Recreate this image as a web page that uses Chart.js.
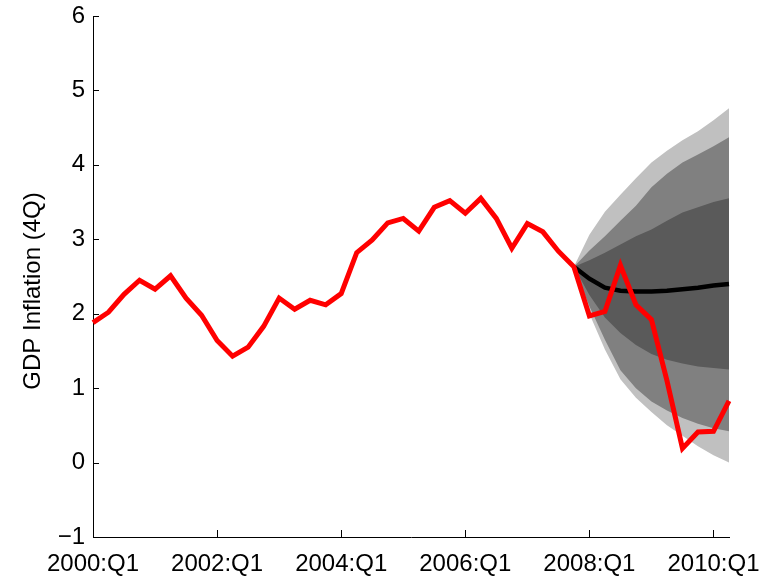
<!DOCTYPE html>
<html>
<head>
<meta charset="utf-8">
<script src="https://cdn.jsdelivr.net/npm/chart.js@4"></script>
<style>
  html, body { margin: 0; padding: 0; background: #fff; }
  #wrap { width: 782px; height: 581px; }
</style>
</head>
<body>
<div id="wrap"><canvas id="gdpChart" width="782" height="581"></canvas></div>
<script>
// quarters 2000:Q1 .. 2010:Q2
const quarters = [];
for (let y = 2000; y <= 2010; y++) {
  for (let q = 1; q <= 4; q++) {
    if (quarters.length < 42) quarters.push(y + ":Q" + q);
  }
}
const tickLabels = ["2000:Q1", "2002:Q1", "2004:Q1", "2006:Q1", "2008:Q1", "2010:Q1"];
const yTicks = [-1, 0, 1, 2, 3, 4, 5, 6];
const yTitle = "GDP Inflation (4Q)";

// actual GDP inflation (4Q)
const actual = [1.88, 2.02, 2.26, 2.45, 2.33, 2.51, 2.21, 1.98, 1.64, 1.43,
                1.55, 1.83, 2.21, 2.06, 2.18, 2.12, 2.27, 2.82, 2.99, 3.22,
                3.28, 3.11, 3.43, 3.52, 3.35, 3.55, 3.28, 2.88, 3.21, 3.10,
                2.84, 2.63, 1.97, 2.03, 2.65, 2.12, 1.92, 1.10, 0.19, 0.41,
                0.42, 0.83];

// forecast from 2007:Q4
const forecastStart = 31;
const median     = [2.63, 2.47, 2.35, 2.31, 2.30, 2.30, 2.31, 2.33, 2.35, 2.38, 2.40];
const darkUpper  = [2.63, 2.72, 2.82, 2.93, 3.04, 3.13, 3.25, 3.36, 3.43, 3.50, 3.55];
const darkLower  = [2.63, 2.25, 1.95, 1.74, 1.58, 1.46, 1.38, 1.33, 1.29, 1.27, 1.25];
const midUpper   = [2.63, 2.85, 3.04, 3.25, 3.45, 3.70, 3.88, 4.03, 4.14, 4.25, 4.37];
const midLower   = [2.63, 2.10, 1.65, 1.24, 1.00, 0.82, 0.70, 0.60, 0.52, 0.46, 0.42];
const lightUpper = [2.63, 3.06, 3.37, 3.60, 3.82, 4.03, 4.19, 4.33, 4.45, 4.60, 4.76];
const lightLower = [2.63, 2.00, 1.52, 1.12, 0.87, 0.68, 0.50, 0.36, 0.22, 0.10, 0.00];

const pad = arr => quarters.map((_, i) => i < forecastStart ? null : arr[i - forecastStart]);

const FONT = "'Liberation Sans', Arial, Helvetica, sans-serif";

function band(data, color, target, order) {
  return {
    data: pad(data),
    borderWidth: 0,
    pointRadius: 0,
    backgroundColor: color,
    fill: target === null ? false : { target: target },
    order: order
  };
}

// inward tick marks (matlab style) + rotated y title
const matlabAxes = {
  id: "matlabAxes",
  beforeDatasetsDraw(chart) {
    const { ctx, chartArea, scales } = chart;
    ctx.save();
    ctx.strokeStyle = "#000";
    ctx.lineWidth = 1;
    ctx.beginPath();
    yTicks.forEach(v => {
      const y = Math.round(scales.y.getPixelForValue(v)) + 0.5;
      ctx.moveTo(chartArea.left, y);
      ctx.lineTo(chartArea.left + 6, y);
    });
    tickLabels.forEach(l => {
      const x = Math.round(scales.x.getPixelForValue(quarters.indexOf(l))) + 0.5;
      ctx.moveTo(x, chartArea.bottom);
      ctx.lineTo(x, chartArea.bottom - 7);
    });
    ctx.stroke();
    ctx.restore();
  },
  afterDraw(chart) {
    const ctx = chart.ctx;
    ctx.save();
    ctx.translate(33, 291);
    ctx.rotate(-Math.PI / 2);
    ctx.fillStyle = "#000";
    ctx.font = "24px " + FONT;
    ctx.textAlign = "center";
    ctx.textBaseline = "middle";
    ctx.fillText(yTitle, 0, 0);
    ctx.restore();
  }
};

const ctx = document.getElementById("gdpChart").getContext("2d");
new Chart(ctx, {
  type: "line",
  data: {
    labels: quarters,
    datasets: [
      { data: actual, borderColor: "#ff0000", borderWidth: 5, pointRadius: 0, fill: false, order: 0 },
      { data: pad(median), borderColor: "#000000", borderWidth: 4.5, pointRadius: 0, fill: false, order: 1 },
      band(darkUpper, "#5a5a5a", 3, 2),
      band(darkLower, "#5a5a5a", null, 3),
      band(midUpper, "#808080", 5, 4),
      band(midLower, "#808080", null, 5),
      band(lightUpper, "#c0c0c0", 7, 6),
      band(lightLower, "#c0c0c0", null, 7)
    ]
  },
  options: {
    responsive: false,
    animation: false,
    events: [],
    layout: { padding: { top: 16, right: 53, left: 0, bottom: 0 } },
    plugins: { legend: { display: false }, tooltip: { enabled: false } },
    scales: {
      x: {
        type: "category",
        offset: false,
        grid: { display: false, drawTicks: false },
        border: { display: true, color: "#000", width: 1 },
        afterFit: s => { s.height = 44; s.paddingLeft = 0; s.paddingRight = 0; },
        ticks: {
          autoSkip: false,
          maxRotation: 0,
          padding: 13,
          color: "#000",
          font: { family: FONT, size: 24 },
          callback: function (val) {
            const l = quarters[val];
            return tickLabels.includes(l) ? l : "";
          }
        }
      },
      y: {
        min: -1,
        max: 6,
        grid: { display: false, drawTicks: false },
        border: { display: true, color: "#000", width: 1 },
        afterFit: s => { s.width = 93; s.paddingTop = 0; s.paddingBottom = 0; },
        ticks: {
          stepSize: 1,
          padding: 8,
          color: "#000",
          font: { family: FONT, size: 24 },
          callback: v => String(v).replace("-", "\u2212")
        }
      }
    }
  },
  plugins: [matlabAxes]
});
</script>
</body>
</html>
